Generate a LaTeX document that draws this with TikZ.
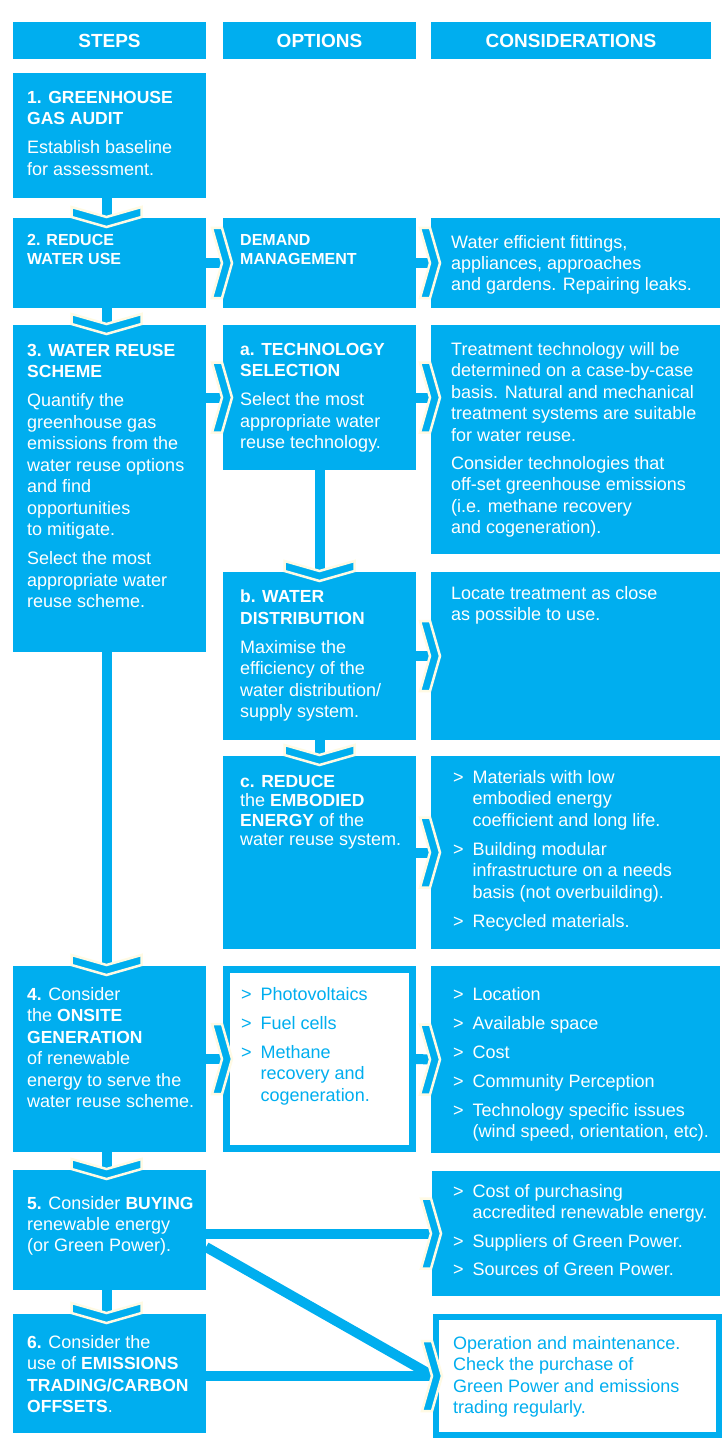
\documentclass[tikz,border=0pt]{standalone}
\usepackage{fontspec}
\setmainfont{Liberation Sans}
\usepackage{tikz}
\definecolor{reuseblue}{RGB}{0,174,239}
\definecolor{cream}{RGB}{255,250,228}
\newcommand{\bhead}[1]{{\fontsize{17.5}{21.5}\selectfont\bfseries #1}}
\newcommand{\litem}{\makebox[19.5pt][l]{>}}
\newcommand{\lind}{\makebox[19.5pt]{}}
\tikzset{
  rchev/.pic={\path[chev] (-11,-35) -- (-1,-35) -- (9,0) -- (-1,35) -- (-11,35) -- (-1,0) -- cycle;},
  dchev/.pic={\path[chev] (-35,-11) -- (-35,-1) -- (0,9) -- (35,-1) -- (35,-11) -- (0,-1) -- cycle;}
}
\begin{document}
\begin{tikzpicture}[x=1pt,y=-1pt,
  bluebox/.style={fill=reuseblue, inner sep=0, outer sep=0, anchor=north west},
  headbox/.style={bluebox, minimum height=37, text=white, font=\fontsize{19}{22}\selectfont\bfseries},
  whitebox/.style={fill=white, draw=reuseblue, anchor=north west, inner sep=0},
  txt/.style={anchor=north west, yshift=13pt, align=left, inner sep=0, text=white,
    font=\fontsize{18}{21.5}\selectfont, execute at begin node={\rule{0pt}{15pt}}},
  flowline/.style={draw=reuseblue, line width=10pt},
  chev/.style={fill=reuseblue, draw=cream, line width=2.5pt, line join=miter}]
  \useasboundingbox (0,0) rectangle (723,1439);
  % column heads
  \node[headbox, minimum width=193] (h1) at (13,22) {STEPS};
  \node[headbox, minimum width=193] (h2) at (223,22) {OPTIONS};
  \node[headbox, minimum width=280] (h3) at (431,22) {CONSIDERATIONS};
  % boxes
  \node[bluebox, minimum width=193, minimum height=125] (s1) at (13,73) {};
  \node[bluebox, minimum width=193, minimum height=90] (s2) at (13,218) {};
  \node[bluebox, minimum width=193, minimum height=90] (o2) at (223,218) {};
  \node[bluebox, minimum width=289, minimum height=90] (c2) at (431,218) {};
  \node[bluebox, minimum width=193, minimum height=327] (s3) at (13,325) {};
  \node[bluebox, minimum width=193, minimum height=145] (oa) at (223,325) {};
  \node[bluebox, minimum width=289, minimum height=229] (ca) at (431,325) {};
  \node[bluebox, minimum width=193, minimum height=168] (ob) at (223,572) {};
  \node[bluebox, minimum width=289, minimum height=168] (cb) at (431,572) {};
  \node[bluebox, minimum width=193, minimum height=193] (oc) at (223,756) {};
  \node[bluebox, minimum width=289, minimum height=193] (cc) at (431,756) {};
  \node[bluebox, minimum width=193, minimum height=186] (s4) at (13,966) {};
  \node[whitebox, line width=7pt, minimum width=186, minimum height=179] (o4) at (223,966) {};
  \node[bluebox, minimum width=289, minimum height=187] (c4) at (431,966) {};
  \node[bluebox, minimum width=193, minimum height=120] (s5) at (13,1170) {};
  \node[bluebox, minimum width=288, minimum height=125] (c5) at (432,1171) {};
  \node[bluebox, minimum width=193, minimum height=119] (s6) at (13,1314) {};
  \node[whitebox, line width=6pt, minimum width=283, minimum height=118] (c6) at (433,1314) {};
  % connectors
  \draw[flowline] ([xshift=-3pt]s1.south) -- ([xshift=-3pt]s2.north);
  \pic at ([xshift=-3pt]s2.north) {dchev};
  \draw[flowline] ([xshift=-3pt]s2.south) -- ([xshift=-3pt]s3.north);
  \pic at ([xshift=-3pt]s3.north) {dchev};
  \draw[flowline] ([xshift=-3pt]s3.south) -- ([xshift=-3pt]s4.north);
  \pic at ([xshift=-3pt]s4.north) {dchev};
  \draw[flowline] ([xshift=-3pt]s4.south) -- ([xshift=-3pt]s5.north);
  \pic at ([xshift=-3pt]s5.north) {dchev};
  \draw[flowline] ([xshift=-3pt]s5.south) -- ([xshift=-3pt]s6.north);
  \pic at ([xshift=-3pt]s6.north) {dchev};
  \draw[flowline] (s2.east) -- (o2.west);
  \pic at (o2.west) {rchev};
  \draw[flowline] (o2.east) -- (c2.west);
  \pic at (c2.west) {rchev};
  \draw[flowline] (s3.east |- oa) -- (oa.west);
  \pic at (oa.west) {rchev};
  \draw[flowline] (oa.east) -- (ca.west |- oa);
  \pic at (ca.west |- oa) {rchev};
  \draw[flowline] (oa.south) -- (ob.north);
  \pic at (ob.north) {dchev};
  \draw[flowline] (ob.east) -- (cb.west);
  \pic at (cb.west) {rchev};
  \draw[flowline] (ob.south) -- (oc.north);
  \pic at (oc.north) {dchev};
  \draw[flowline] (oc.east) -- (cc.west);
  \pic at (cc.west) {rchev};
  \draw[flowline] (s4.east) -- (o4.west);
  \pic at (o4.west) {rchev};
  \draw[flowline] (o4.east) -- (c4.west);
  \pic at (c4.west) {rchev};
  \draw[flowline] (s5.east |- c5) -- (c5.west);
  \pic at (c5.west) {rchev};
  \coordinate (s5low) at ([yshift=-17pt]s5.east);
  \draw[flowline] (s5low) -- (c6.west);
  \draw[flowline] (s6.east |- c6) -- (c6.west);
  \pic at (c6.west) {rchev};
  % texts
  \node[txt] (s1t) at (27,104) {\bhead{1. GREENHOUSE}\\\bhead{GAS AUDIT}\\[7.5pt]Establish baseline\\for assessment.};
  \node[txt, font=\fontsize{16}{19.5}\selectfont\bfseries] (s2t) at (27,247) {2. REDUCE\\WATER USE};
  \node[txt, font=\fontsize{16}{19.5}\selectfont\bfseries] (o2t) at (240,247) {DEMAND\\MANAGEMENT};
  \node[txt, font=\fontsize{18}{21}\selectfont] (c2t) at (451,248) {Water efficient fittings,\\appliances, approaches\\and gardens. Repairing leaks.};
  \node[txt] (s3t) at (27,357) {\bhead{3. WATER REUSE}\\\bhead{SCHEME}\\[7.5pt]Quantify the\\greenhouse gas\\emissions from the\\water reuse options\\and find\\opportunities\\to mitigate.\\[7.5pt]Select the most\\appropriate water\\reuse scheme.};
  \node[txt] (oat) at (240,356) {\bhead{a. TECHNOLOGY}\\\bhead{SELECTION}\\[7.5pt]Select the most\\appropriate water\\reuse technology.};
  \node[txt] (cat) at (451,355) {Treatment technology will be\\determined on a case-by-case\\basis. Natural and mechanical\\treatment systems are suitable\\for water reuse.\\[6.5pt]Consider technologies that\\off-set greenhouse emissions\\(i.e. methane recovery\\and cogeneration).};
  \node[txt] (obt) at (240,603) {\bhead{b. WATER}\\\bhead{DISTRIBUTION}\\[7.5pt]Maximise the\\efficiency of the\\water distribution/\\supply system.};
  \node[txt] (cbt) at (451,599) {Locate treatment as close\\as possible to use.};
  \node[txt, font=\fontsize{18}{19.5}\selectfont] (oct) at (240,788) {\bhead{c. REDUCE}\\the \bhead{EMBODIED}\\\bhead{ENERGY} of the\\water reuse system.};
  \node[txt] (cct) at (453,783) {\litem Materials with low\\\lind embodied energy\\\lind coefficient and long life.\\[7.5pt]\litem Building modular\\\lind infrastructure on a needs\\\lind basis (not overbuilding).\\[7.5pt]\litem Recycled materials.};
  \node[txt] (s4t) at (27,1000) {\bhead{4.} Consider\\the \bhead{ONSITE}\\\bhead{GENERATION}\\of renewable\\energy to serve the\\water reuse scheme.};
  \node[txt, text=reuseblue] (o4t) at (241,1000) {\litem Photovoltaics\\[7.5pt]\litem Fuel cells\\[7.5pt]\litem Methane\\\lind recovery and\\\lind cogeneration.};
  \node[txt] (c4t) at (453,1000) {\litem Location\\[7.5pt]\litem Available space\\[7.5pt]\litem Cost\\[7.5pt]\litem Community Perception\\[7.5pt]\litem Technology specific issues\\\lind (wind speed, orientation, etc).};
  \node[txt, font=\fontsize{18}{21}\selectfont] (s5t) at (27,1209) {\bhead{5.} Consider \bhead{BUYING}\\renewable energy\\(or Green Power).};
  \node[txt, font=\fontsize{18}{21}\selectfont] (c5t) at (453,1197) {\litem Cost of purchasing\\\lind accredited renewable energy.\\[8pt]\litem Suppliers of Green Power.\\[7pt]\litem Sources of Green Power.};
  \node[txt] (s6t) at (27,1348) {\bhead{6.} Consider the\\use of \bhead{EMISSIONS}\\\bhead{TRADING/CARBON}\\\bhead{OFFSETS}.};
  \node[txt, text=reuseblue] (c6t) at (453,1349) {Operation and maintenance.\\Check the purchase of\\Green Power and emissions\\trading regularly.};
\end{tikzpicture}
\end{document}
